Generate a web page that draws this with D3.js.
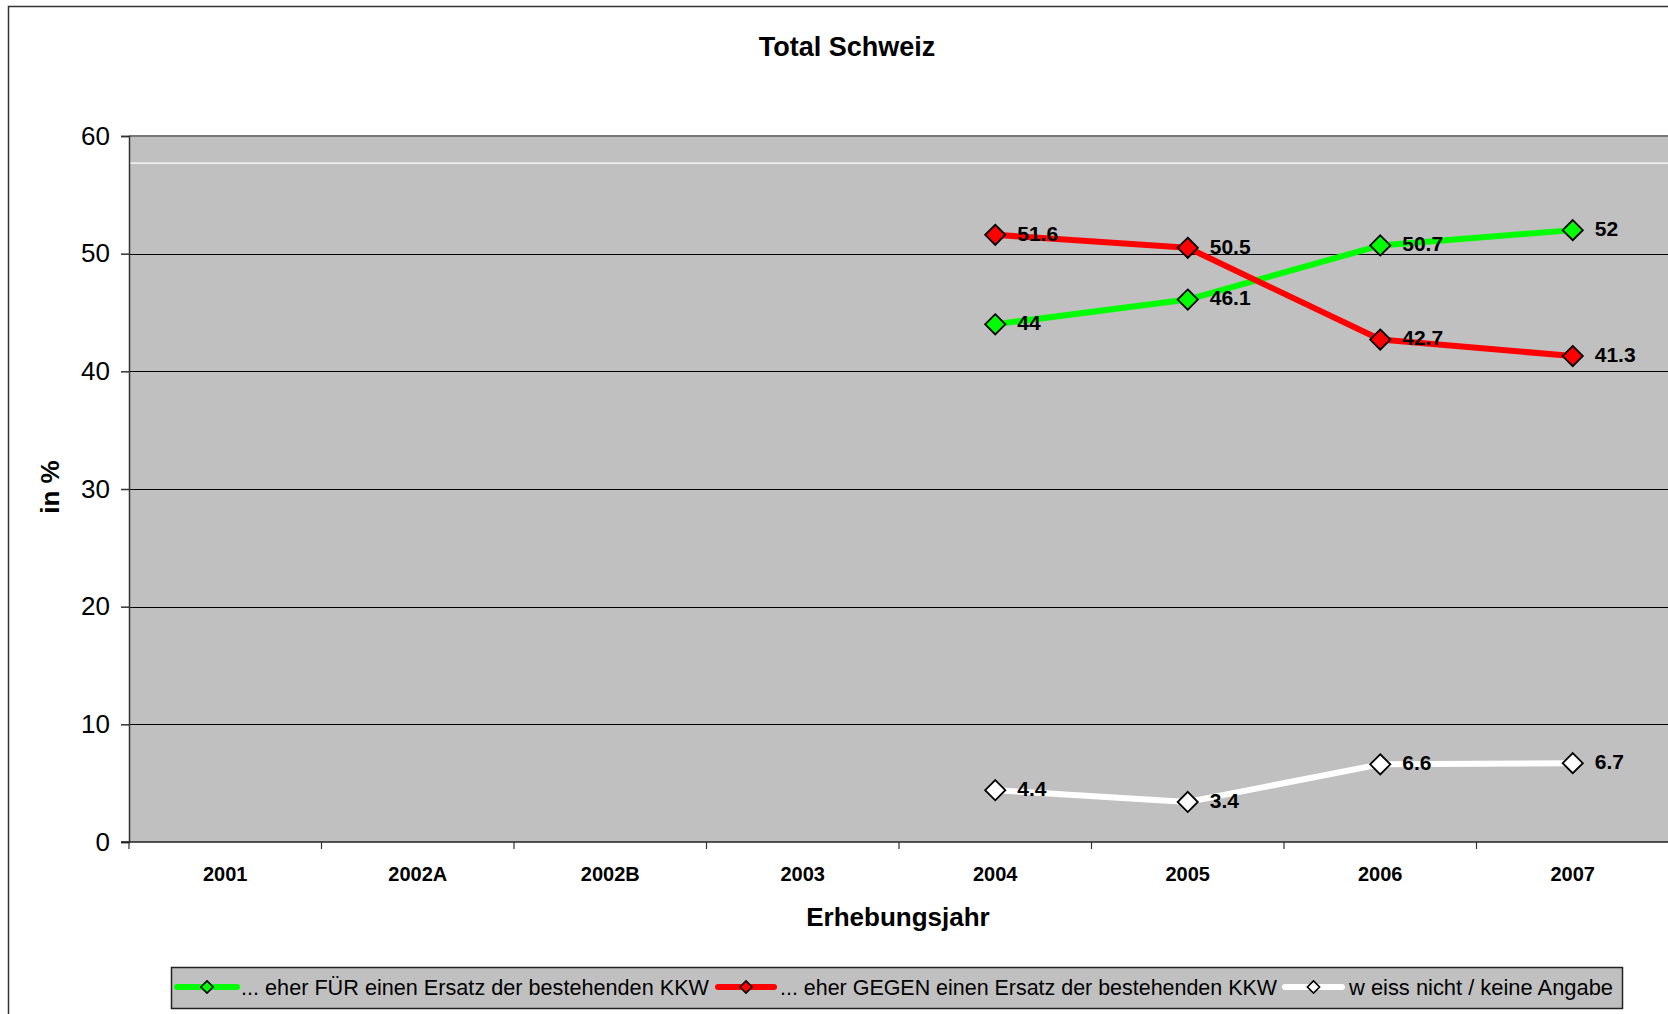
<!DOCTYPE html>
<html><head><meta charset="utf-8">
<script src="https://cdn.jsdelivr.net/npm/d3@7"></script>
<style>body{margin:0;background:#fff}svg{display:block}text{font-family:"Liberation Sans",Arial,sans-serif}</style>
</head><body>
<svg id="c" width="1668" height="1014"></svg>
<script>
const categories = ["2001","2002A","2002B","2003","2004","2005","2006","2007"];
const yTicks = [0,10,20,30,40,50,60];
const seriesNames = ["... eher FÜR einen Ersatz der bestehenden KKW","... eher GEGEN einen Ersatz der bestehenden KKW","w eiss nicht / keine Angabe"];
const seriesColors = ["#00FF00","#FF0000","#FFFFFF"];
const valuesFuer = [null,null,null,null,44,46.1,50.7,52];
const valuesGegen = [null,null,null,null,51.6,50.5,42.7,41.3];
const valuesWeiss = [null,null,null,null,4.4,3.4,6.6,6.7];
const series = [valuesFuer, valuesGegen, valuesWeiss];

const svg = d3.select("#c");
const L = 129, R = 1669, T = 136, B = 842;
const x = d3.scaleBand().domain(categories).range([L, R]);
const y = d3.scaleLinear().domain([0, 60]).range([B, T]);

// outer chart border
svg.append("rect").attr("x",8.5).attr("y",6.5).attr("width",1700).attr("height",1100)
  .attr("fill","#fff").attr("stroke","#333").attr("stroke-width",1.5);

// title
svg.append("text").attr("x",847).attr("y",56).attr("text-anchor","middle")
  .attr("font-size",27).attr("font-weight","bold").text("Total Schweiz");

// plot bg
svg.append("rect").attr("x",L).attr("y",T).attr("width",R-L).attr("height",B-T).attr("fill","#C0C0C0");

// gridlines
svg.append("g").selectAll("line").data(yTicks.filter(d=>d>0 && d<60)).join("line")
  .attr("x1",L).attr("x2",R).attr("y1",d=>Math.round(y(d))+0.5).attr("y2",d=>Math.round(y(d))+0.5)
  .attr("stroke","#000").attr("stroke-width",1);
// white line near top
svg.append("line").attr("x1",L).attr("x2",R).attr("y1",y(57.7)).attr("y2",y(57.7))
  .attr("stroke","#fff").attr("stroke-width",1.2);
// top border
svg.append("line").attr("x1",L).attr("x2",R).attr("y1",T).attr("y2",T).attr("stroke","#777").attr("stroke-width",2);

// y axis
const yAxis = d3.axisLeft(y).tickValues(yTicks).tickSize(8).tickPadding(11).tickFormat(d3.format("d"));
const gy = svg.append("g").attr("transform",`translate(${L},0)`).call(yAxis);
gy.select(".domain").attr("stroke","#333").attr("stroke-width",1.5);
gy.selectAll(".tick line").attr("stroke","#333").attr("stroke-width",1.5);
gy.selectAll("text").attr("font-size",26).attr("fill","#000").attr("font-family","Liberation Sans, Arial, sans-serif");

// x axis
const xAxis = d3.axisBottom(x).tickSize(0).tickPadding(0);
const gx = svg.append("g").attr("transform",`translate(0,${B})`).call(xAxis);
gx.select(".domain").remove();
gx.selectAll("text").attr("font-size",20).attr("font-weight","bold").attr("fill","#000")
  .attr("dy",null).attr("y",39).attr("font-family","Liberation Sans, Arial, sans-serif");
svg.append("line").attr("x1",L-8).attr("x2",R).attr("y1",B).attr("y2",B).attr("stroke","#222").attr("stroke-width",1.5);
svg.append("g").selectAll("line").data(categories).join("line")
  .attr("x1",d=>x(d)).attr("x2",d=>x(d)).attr("y1",B).attr("y2",B+7)
  .attr("stroke","#333").attr("stroke-width",1.2);

// axis titles
svg.append("text").attr("x",898).attr("y",926).attr("text-anchor","middle")
  .attr("font-size",26).attr("font-weight","bold").text("Erhebungsjahr");
svg.append("text").attr("transform","translate(59,487) rotate(-90)").attr("text-anchor","middle")
  .attr("font-size",26).attr("font-weight","bold").text("in %");

const diamond = d3.symbol().type(d3.symbolDiamond2).size(260);
const cx = d => x(d) + x.bandwidth()/2;

// lines
const line = d3.line().defined(d=>d.v!=null).x(d=>cx(d.c)).y(d=>y(d.v));
series.forEach((vals,i)=>{
  const pts = categories.map((c,j)=>({c, v: vals[j]}));
  svg.append("path").datum(pts).attr("d",line).attr("fill","none")
    .attr("stroke",seriesColors[i]).attr("stroke-width",6).attr("stroke-linejoin","round");
});
series.forEach((vals,i)=>{
  const pts = categories.map((c,j)=>({c, v: vals[j]})).filter(d=>d.v!=null);
  svg.append("g").selectAll("path").data(pts).join("path")
    .attr("d",diamond).attr("transform",d=>`translate(${cx(d.c)},${y(d.v)})`)
    .attr("fill",seriesColors[i]).attr("stroke","#000").attr("stroke-width",1.8);
});
series.forEach((vals,i)=>{
  const pts = categories.map((c,j)=>({c, v: vals[j]})).filter(d=>d.v!=null);
  svg.append("g").selectAll("text").data(pts).join("text")
    .attr("x",d=>cx(d.c)+22).attr("y",d=>y(d.v)).attr("dy","0.28em")
    .attr("font-size",21).attr("font-weight","bold").attr("fill","#000")
    .text(d=>d.v);
});

// legend
svg.append("rect").attr("x",171.5).attr("y",967.5).attr("width",1451).attr("height",41)
  .attr("fill","#C0C0C0").attr("stroke","#222").attr("stroke-width",1.5);
const legendX = [[177,237,241,709],[718,774,780,1277],[1285,1342,1349,1613]];
const ly = 987;
seriesNames.forEach((name,i)=>{
  const [a,b,t0,t1] = legendX[i];
  svg.append("line").attr("x1",a).attr("x2",b).attr("y1",ly).attr("y2",ly)
    .attr("stroke",seriesColors[i]).attr("stroke-width",6).attr("stroke-linecap","round");
  svg.append("path").attr("d",d3.symbol().type(d3.symbolDiamond2).size(95))
    .attr("transform",`translate(${(a+b)/2},${ly})`).attr("fill",seriesColors[i])
    .attr("stroke","#000").attr("stroke-width",1.6);
  svg.append("text").attr("x",t0).attr("y",ly).attr("dy","0.36em").attr("font-size",22)
    .attr("textLength",t1-t0).attr("lengthAdjust","spacingAndGlyphs").text(name);
});
</script>
</body></html>
